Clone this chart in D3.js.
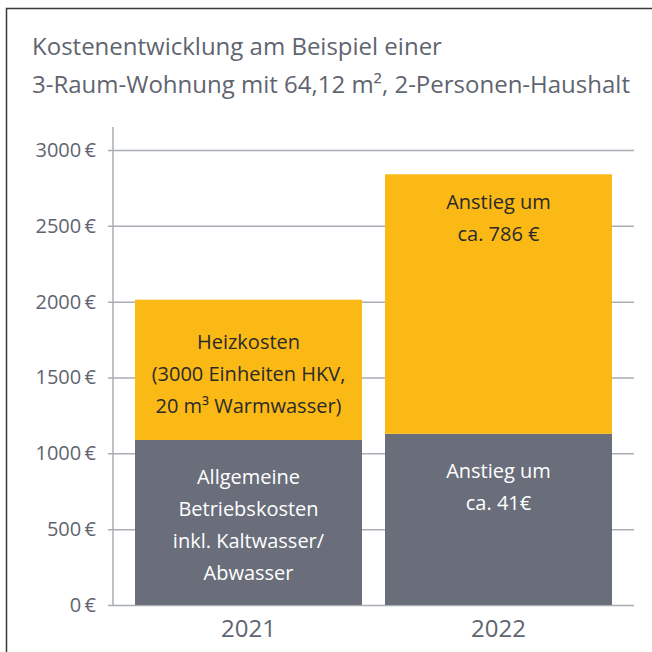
<!DOCTYPE html>
<html>
<head>
<meta charset="utf-8">
<script src="https://cdn.jsdelivr.net/npm/d3@7"></script>
<style>
  body { margin: 0; background: #fff; }
  svg { display: block; font-family: "Open Sans", "Noto Sans", sans-serif; }
</style>
</head>
<body>
<script>
// Jahre (Kategorien)
var jahre = ["2021", "2022"];
// Allgemeine Betriebskosten (grauer Teil)
var betriebskosten = [1088, 1129];
// Heizkosten (gelber Teil)
var heizkosten = [925, 1711];
// Achsenwerte
var ticks = [0, 500, 1000, 1500, 2000, 2500, 3000];

// Beschriftungen in den Balken
var textGrau = [
  ["Allgemeine", "Betriebskosten", "inkl. Kaltwasser/", "Abwasser"],
  ["Anstieg um", "ca. 41€"]
];
var textGelb = [
  ["Heizkosten", "(3000 Einheiten HKV,", "20 m³  Warmwasser)"],
  ["Anstieg um", "ca. 786 €"]
];
var titel = ["Kostenentwicklung am Beispiel einer",
             "3-Raum-Wohnung mit 64,12 m², 2-Personen-Haushalt"];

var vis = {
  w: 652, h: 652,
  gelb: "#fbb916",
  grau: "#696e7a",
  textGrau: "#5f6570",
  gitter: "#a9adb4"
};

var svg = d3.select("body").append("svg")
  .attr("width", vis.w)
  .attr("height", vis.h);

// Rahmen oben und links
svg.append("path")
  .attr("d", "M6.5,652 V8.5 H652")
  .attr("fill", "none")
  .attr("stroke", "#3a3a3a")
  .attr("stroke-width", 1.5);

// Titel
svg.selectAll("text.titel")
  .data(titel)
  .enter().append("text")
  .attr("class", "titel")
  .attr("x", 32)
  .attr("y", function(d, i) { return 55 + i * 38; })
  .attr("fill", vis.textGrau)
  .style("font-size", "24px")
  .text(function(d) { return d; });

// Skalen
var y = d3.scaleLinear().domain([0, 3000]).range([605, 150]);
var x = d3.scaleBand().domain(jahre).range([135, 612]).paddingInner(0.092).paddingOuter(0);

// Gitterlinien + Achse
var yAxis = d3.axisLeft(y)
  .tickValues(ticks)
  .tickSize(-(634 - 113))
  .tickPadding(0)
  .tickFormat(function(d) { return d + "\u2009€"; });

var g = svg.append("g")
  .attr("transform", "translate(113,0)")
  .call(yAxis);
g.select(".domain").remove();
g.selectAll(".tick line")
  .attr("x1", -5)
  .attr("stroke", vis.gitter)
  .attr("stroke-width", 1.5);
g.selectAll(".tick text")
  .attr("x", -17)
  .attr("fill", vis.textGrau)
  .style("font-size", "20px")
  .style("font-family", "'Open Sans', sans-serif");

// vertikale Achsenlinie
svg.append("line")
  .attr("x1", 113).attr("x2", 113)
  .attr("y1", 127).attr("y2", y(0))
  .attr("stroke", vis.gitter)
  .attr("stroke-width", 1.5);

// Balken
var balken = svg.append("g");
balken.selectAll("rect.grau")
  .data(jahre)
  .enter().append("rect")
  .attr("x", function(d) { return x(d); })
  .attr("width", x.bandwidth())
  .attr("y", function(d, i) { return y(betriebskosten[i]); })
  .attr("height", function(d, i) { return y(0) - y(betriebskosten[i]); })
  .attr("fill", vis.grau);

balken.selectAll("rect.gelb")
  .data(jahre)
  .enter().append("rect")
  .attr("x", function(d) { return x(d); })
  .attr("width", x.bandwidth())
  .attr("y", function(d, i) { return y(betriebskosten[i] + heizkosten[i]); })
  .attr("height", function(d, i) { return y(betriebskosten[i]) - y(betriebskosten[i] + heizkosten[i]); })
  .attr("fill", vis.gelb);

// Texte in den Balken
function zeilen(liste, farbe, startY) {
  jahre.forEach(function(j, i) {
    svg.append("g").selectAll("text")
      .data(liste[i])
      .enter().append("text")
      .attr("x", x(j) + x.bandwidth() / 2)
      .attr("y", function(d, k) { return startY(i) + k * 32; })
      .attr("text-anchor", "middle")
      .attr("fill", farbe)
      .style("font-size", "20px")
      .text(function(d) { return d; });
  });
}
zeilen(textGelb, "#2a2a2a", function(i) {
  return i === 0 ? 349 : y(betriebskosten[i] + heizkosten[i]) + 35;
});
zeilen(textGrau, "#ffffff", function(i) { return y(betriebskosten[i]) + 44; });

// Jahreszahlen
svg.selectAll("text.jahr")
  .data(jahre)
  .enter().append("text")
  .attr("class", "jahr")
  .attr("x", function(d) { return x(d) + x.bandwidth() / 2; })
  .attr("y", 637)
  .attr("text-anchor", "middle")
  .attr("fill", vis.textGrau)
  .style("font-size", "24px")
  .text(function(d) { return d; });
</script>
</body>
</html>
